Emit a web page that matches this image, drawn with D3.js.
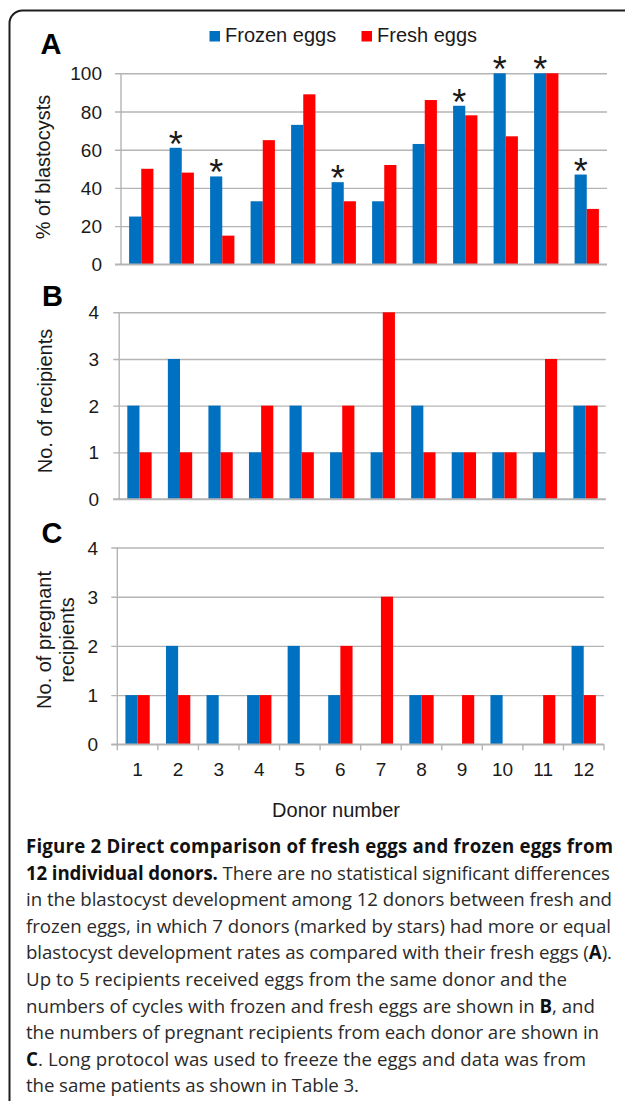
<!DOCTYPE html>
<html>
<head>
<meta charset="utf-8">
<script src="https://cdn.jsdelivr.net/npm/d3@7/dist/d3.min.js"></script>
<style>
  html, body { margin: 0; padding: 0; background: #fff; }
  svg { display: block; }
</style>
</head>
<body>
<svg id="chart" width="625" height="1101"></svg>
<script>
// ---------- data ----------
const donors = ["1","2","3","4","5","6","7","8","9","10","11","12"];
const seriesNames = ["Frozen eggs", "Fresh eggs"];
const blastFrozen = [25, 61, 46, 33, 73, 43, 33, 63, 83, 100, 100, 47];
const blastFresh  = [50, 48, 15, 65, 89, 33, 52, 86, 78, 67, 100, 29];
const starDonors  = ["2","3","6","9","10","11","12"];
const recipFrozen = [2, 3, 2, 1, 2, 1, 1, 2, 1, 1, 1, 2];
const recipFresh  = [1, 1, 1, 2, 1, 2, 4, 1, 1, 1, 3, 2];
const pregFrozen  = [1, 2, 1, 1, 2, 1, 0, 1, 0, 1, 0, 2];
const pregFresh   = [1, 1, 0, 1, 0, 2, 3, 1, 1, 0, 1, 1];
const ticksA  = [0, 20, 40, 60, 80, 100];
const ticksBC = [0, 1, 2, 3, 4];
const xTitle = "Donor number";
const captionLines = [
  [["Figure 2 Direct comparison of fresh eggs and frozen eggs from", true]],
  [["12 individual donors.", true], [" There are no statistical significant differences", false]],
  [["in the blastocyst development among 12 donors between fresh and", false]],
  [["frozen eggs, in which 7 donors (marked by stars) had more or equal", false]],
  [["blastocyst development rates as compared with their fresh eggs (", false], ["A", true], [").", false]],
  [["Up to 5 recipients received eggs from the same donor and the", false]],
  [["numbers of cycles with frozen and fresh eggs are shown in ", false], ["B", true], [", and", false]],
  [["the numbers of pregnant recipients from each donor are shown in", false]],
  [["C", true], [". Long protocol was used to freeze the eggs and data was from", false]],
  [["the same patients as shown in Table 3.", false]]
];

// ---------- styles ----------
const BLUE = "#0070c0", RED = "#ff0000", GRID = "#b4b4b4";
const AX_FONT = "'Liberation Sans', Arial, sans-serif";
const colors = [BLUE, RED];

const svg = d3.select("#chart");

// outer rounded frame (runs off the right and bottom edges)
svg.append("rect")
  .attr("x", 9.5).attr("y", 10.5).attr("width", 720).attr("height", 1200)
  .attr("rx", 13).attr("ry", 13)
  .attr("fill", "none").attr("stroke", "#1e1e1e").attr("stroke-width", 2);

function panel(cfg) {
  const g = svg.append("g");
  const x = d3.scaleBand().domain(donors).range([cfg.x0, cfg.x1])
    .paddingInner(0.4).paddingOuter(0.2);
  const xs = d3.scaleBand().domain(seriesNames).range([0, x.bandwidth()]);
  const y = d3.scaleLinear().domain([0, cfg.max]).range([cfg.y0, cfg.y1]);

  // y axis with gridlines
  const ax = g.append("g").attr("transform", `translate(${cfg.x0},0)`)
    .call(d3.axisLeft(y).tickValues(cfg.ticks).tickFormat(d3.format("d"))
      .tickSize(0).tickPadding(0));
  ax.attr("font-family", null).attr("font-size", null);
  ax.select(".domain").remove();
  ax.selectAll(".tick line")
    .attr("x1", -6).attr("x2", cfg.x1 - cfg.x0)
    .attr("stroke", GRID).attr("stroke-width", 1.4);
  ax.selectAll(".tick text")
    .attr("x", cfg.labelX - cfg.x0).attr("dy", "0.35em")
    .style("font-family", AX_FONT).attr("font-size", 19).attr("fill", "#1a1a1a")
    .attr("text-anchor", "end");
  // vertical axis line
  g.append("line").attr("x1", cfg.x0).attr("x2", cfg.x0)
    .attr("y1", y(0)).attr("y2", y(cfg.max))
    .attr("stroke", GRID).attr("stroke-width", 1.4);

  // bars
  const series = [cfg.frozen, cfg.fresh];
  series.forEach((vals, si) => {
    g.append("g").selectAll("rect").data(donors).join("rect")
      .attr("x", (d) => x(d) + xs(seriesNames[si]))
      .attr("width", xs.bandwidth())
      .attr("y", (d, i) => y(vals[i]))
      .attr("height", (d, i) => y(0) - y(vals[i]))
      .attr("fill", colors[si]);
  });

  // x baseline redraw on top
  g.append("line").attr("x1", cfg.x0 - 6).attr("x2", cfg.x1)
    .attr("y1", y(0)).attr("y2", y(0))
    .attr("stroke", GRID).attr("stroke-width", 1.4);

  // panel letter
  g.append("text").attr("x", cfg.letterX).attr("y", cfg.letterY)
    .style("font-family", AX_FONT).attr("font-weight", "bold")
    .attr("font-size", 29).attr("fill", "#000").text(cfg.letter);

  // y title
  const tt = g.append("text")
    .attr("transform", `translate(${cfg.titleX},${cfg.titleCY}) rotate(-90)`)
    .attr("text-anchor", "middle")
    .style("font-family", AX_FONT).attr("font-size", 20).attr("fill", "#1a1a1a");
  cfg.title.forEach((line, i) => {
    tt.append("tspan").attr("x", 0).attr("y", i * 23).text(line);
  });

  return { g, x, xs, y };
}

// Panel A
const A = panel({
  x0: 121, x1: 607, y0: 264.3, y1: 73.3, max: 100, ticks: ticksA,
  frozen: blastFrozen, fresh: blastFresh, labelX: 102,
  letter: "A", letterX: 40.5, letterY: 53.5,
  title: ["% of blastocysts"], titleX: 50, titleCY: 167
});
// stars
A.g.append("g").selectAll("text").data(starDonors).join("text")
  .attr("x", (d) => A.x(d) + A.xs(seriesNames[0]) + A.xs.bandwidth() / 2)
  .attr("y", (d) => A.y(blastFrozen[donors.indexOf(d)]) + 9)
  .attr("text-anchor", "middle")
  .style("font-family", AX_FONT).attr("font-size", 36).attr("fill", "#1a1a1a")
  .text("*");

// legend
const leg = svg.append("g");
const legX = [209.5, 361.5];
seriesNames.forEach((s, i) => {
  leg.append("rect").attr("x", legX[i]).attr("y", 31).attr("width", 10.5).attr("height", 10.5)
    .attr("fill", colors[i]);
  leg.append("text").attr("x", legX[i] + 15.5).attr("y", 42.3)
    .style("font-family", AX_FONT).attr("font-size", 20).attr("fill", "#1a1a1a").text(s);
});

// Panel B
panel({
  x0: 119.2, x1: 605.8, y0: 499, y1: 312.3, max: 4, ticks: ticksBC,
  frozen: recipFrozen, fresh: recipFresh, labelX: 99,
  letter: "B", letterX: 42, letterY: 306,
  title: ["No. of recipients"], titleX: 52, titleCY: 401
});

// Panel C
const C = panel({
  x0: 117.3, x1: 604, y0: 744.3, y1: 547.5, max: 4, ticks: ticksBC,
  frozen: pregFrozen, fresh: pregFresh, labelX: 98,
  letter: "C", letterX: 41.5, letterY: 542.7,
  title: ["No. of pregnant", "recipients"], titleX: 51, titleCY: 640
});
// category labels and boundary ticks
const xa = C.g.append("g").attr("transform", `translate(0,${C.y(0)})`)
  .call(d3.axisBottom(C.x).tickSize(0).tickPadding(0));
xa.attr("font-family", null).attr("font-size", null);
xa.select(".domain").remove();
xa.selectAll(".tick text").attr("y", 32).attr("dy", 0)
  .style("font-family", AX_FONT).attr("font-size", 19).attr("fill", "#1a1a1a");
const bounds = donors.map((d) => C.x(d) - C.x.step() * C.x.paddingInner() / 2)
  .concat([C.x(donors[donors.length - 1]) + C.x.bandwidth() + C.x.step() * C.x.paddingInner() / 2]);
C.g.append("g").selectAll("line").data(bounds).join("line")
  .attr("x1", (d) => d).attr("x2", (d) => d)
  .attr("y1", C.y(0)).attr("y2", C.y(0) + 6)
  .attr("stroke", GRID).attr("stroke-width", 1.4);
C.g.append("text").attr("x", 336).attr("y", 817)
  .attr("text-anchor", "middle")
  .style("font-family", AX_FONT).attr("font-size", 20).attr("fill", "#1a1a1a")
  .text(xTitle);

// ---------- caption ----------
const capX = 26, capY0 = 853, capDy = 26.6;
const capEnds = [613, 610, 612, 611, 612, 567, 595, 599, 586, 359];
const cap = svg.append("g");
const baseFs = 17;
const capTexts = captionLines.map((parts, i) => {
  const t = cap.append("text").attr("x", capX).attr("y", capY0 + i * capDy)
    .style("font-family", "'Open Sans', sans-serif").attr("font-size", baseFs)
    .attr("fill", "#2a2a2a");
  parts.forEach(([s, b]) => {
    t.append("tspan").attr("font-weight", b ? 700 : 400)
      .attr("fill", b ? "#111" : "#2a2a2a").text(s);
  });
  return t;
});
// fit the font size to the measured line widths, then adjust letter spacing per line
const ratios = capTexts.map((t, i) => (capEnds[i] - capX) / t.node().getComputedTextLength());
const scale = d3.mean(ratios);
capTexts.forEach((t) => t.attr("font-size", baseFs * scale));
capTexts.forEach((t, i) => {
  const natural = t.node().getComputedTextLength();
  const n = t.text().length;
  const ls = (capEnds[i] - capX - natural) / Math.max(1, n - 1);
  t.attr("letter-spacing", ls.toFixed(3));
});
</script>
</body>
</html>
